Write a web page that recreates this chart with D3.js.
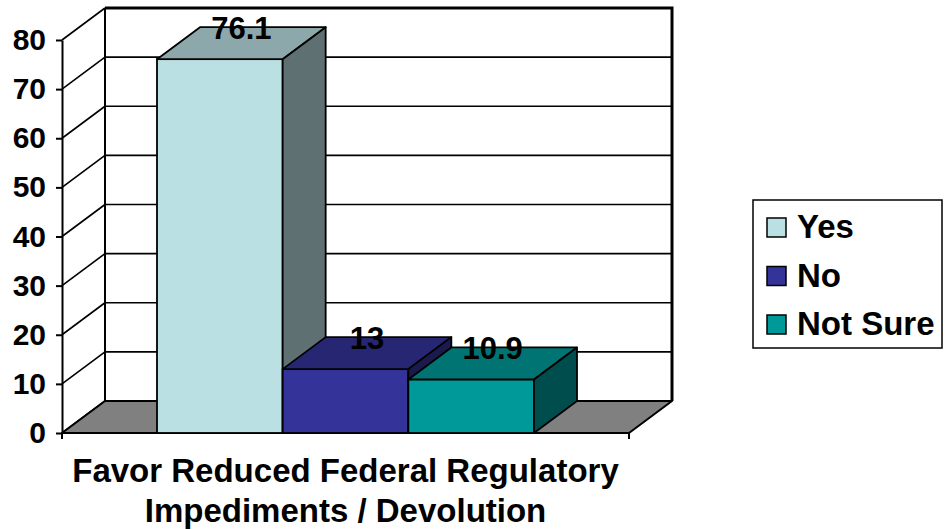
<!DOCTYPE html>
<html>
<head>
<meta charset="utf-8">
<script src="https://cdn.jsdelivr.net/npm/d3@7"></script>
<style>
  body { margin: 0; background: #fff; }
  svg text { font-family: "Liberation Sans", Arial, sans-serif; font-weight: bold; fill: #000; }
</style>
</head>
<body>
<div id="chart"></div>
<script>
// chart data
const categories = ['Favor Reduced Federal Regulatory Impediments / Devolution'];
const categoryLines = ['Favor Reduced Federal Regulatory', 'Impediments / Devolution'];
const seriesNames = ['Yes', 'No', 'Not Sure'];
const seriesValues = [76.1, 13, 10.9];
const yTicks = [0, 10, 20, 30, 40, 50, 60, 70, 80];

// colours per series (front face)
const seriesColors = ['#BBE0E3', '#333399', '#009999'];

const width = 945, height = 529;
const depth = { dx: 43, dy: 32 };   // 3d offset of the back wall

const svg = d3.select('#chart').append('svg')
    .attr('width', width)
    .attr('height', height);

const y = d3.scaleLinear().domain([0, 80]).range([433, 40]);
const x0 = d3.scaleBand().domain(categories).range([62, 629]).paddingOuter(0.252).paddingInner(0);
const x1 = d3.scaleBand().domain(seriesNames).range([0, x0.bandwidth()]);

function shade(c, k) {
    const col = d3.rgb(c);
    return d3.rgb(col.r * k, col.g * k, col.b * k).formatHex();
}

const [xl, xr] = x0.range();
const y0 = y(0), yTop = y(80);

// back wall
const wall = svg.append('g').attr('class', 'walls');
wall.append('rect')
    .attr('x', xl + depth.dx)
    .attr('y', yTop - depth.dy)
    .attr('width', xr - xl)
    .attr('height', y0 - yTop)
    .attr('fill', '#fff');

// back wall gridlines
wall.selectAll('line.grid')
    .data(yTicks.slice(1, -1))
    .join('line')
    .attr('class', 'grid')
    .attr('x1', xl + depth.dx).attr('x2', xr + depth.dx)
    .attr('y1', d => y(d) - depth.dy).attr('y2', d => y(d) - depth.dy)
    .attr('stroke', '#000').attr('stroke-width', 1.6);

// side wall gridlines
wall.selectAll('line.side')
    .data(yTicks)
    .join('line')
    .attr('class', 'side')
    .attr('x1', xl).attr('x2', xl + depth.dx)
    .attr('y1', d => y(d)).attr('y2', d => y(d) - depth.dy)
    .attr('stroke', '#000').attr('stroke-width', 1.6);

// back wall left edge
wall.append('line')
    .attr('x1', xl + depth.dx).attr('x2', xl + depth.dx)
    .attr('y1', yTop - depth.dy).attr('y2', y0 - depth.dy)
    .attr('stroke', '#000').attr('stroke-width', 2);

// back wall top and right border
wall.append('path')
    .attr('d', `M${xl + depth.dx},${yTop - depth.dy}H${xr + depth.dx}V${y0 - depth.dy}`)
    .attr('fill', 'none')
    .attr('stroke', '#000').attr('stroke-width', 3);

// floor
svg.append('path')
    .attr('d', `M${xl},${y0}L${xr},${y0}L${xr + depth.dx},${y0 - depth.dy}L${xl + depth.dx},${y0 - depth.dy}Z`)
    .attr('fill', '#808080')
    .attr('stroke', '#000').attr('stroke-width', 2)
    .attr('stroke-linejoin', 'round');

// category axis ticks
svg.selectAll('line.cat-tick')
    .data([xl, xr])
    .join('line')
    .attr('class', 'cat-tick')
    .attr('x1', d => d).attr('x2', d => d)
    .attr('y1', y0).attr('y2', y0 + 6)
    .attr('stroke', '#000').attr('stroke-width', 2);

// bars
const bars = svg.append('g').attr('class', 'bars')
    .selectAll('g')
    .data(seriesNames.map((s, i) => ({ name: s, value: seriesValues[i], color: seriesColors[i] })))
    .join('g');

bars.each(function(d) {
    const g = d3.select(this);
    const bx = x0(categories[0]) + x1(d.name);
    const bw = x1.bandwidth();
    const by = y(d.value);

    // front
    g.append('rect')
        .attr('x', bx).attr('y', by)
        .attr('width', bw).attr('height', y0 - by)
        .attr('fill', d.color)
        .attr('stroke', '#000').attr('stroke-width', 1.8);
    // top
    g.append('path')
        .attr('d', `M${bx},${by}L${bx + bw},${by}L${bx + bw + depth.dx},${by - depth.dy}L${bx + depth.dx},${by - depth.dy}Z`)
        .attr('fill', shade(d.color, 0.75))
        .attr('stroke', '#000').attr('stroke-width', 1.8).attr('stroke-linejoin', 'round');
    // side
    g.append('path')
        .attr('d', `M${bx + bw},${by}L${bx + bw + depth.dx},${by - depth.dy}L${bx + bw + depth.dx},${y0 - depth.dy}L${bx + bw},${y0}Z`)
        .attr('fill', shade(d.color, 0.5))
        .attr('stroke', '#000').attr('stroke-width', 1.8).attr('stroke-linejoin', 'round');
});

// data labels
bars.append('text')
    .attr('x', d => x0(categories[0]) + x1(d.name) + x1.bandwidth() / 2 + depth.dx / 2)
    .attr('y', d => y(d.value) - depth.dy + 12)
    .attr('text-anchor', 'middle')
    .style('font-size', '31px')
    .text(d => d.value);

// y axis
const yAxis = svg.append('g')
    .attr('transform', `translate(${xl},0)`)
    .call(d3.axisLeft(y).tickValues(yTicks).tickSize(6).tickSizeOuter(0).tickPadding(10));
yAxis.select('.domain').attr('stroke', '#000').attr('stroke-width', 2);
yAxis.selectAll('.tick line').attr('stroke', '#000').attr('stroke-width', 2);
yAxis.selectAll('.tick text')
    .attr('fill', '#000')
    .style('font-family', '"Liberation Sans", Arial, sans-serif')
    .style('font-weight', 'bold')
    .style('font-size', '30px');

// category label
svg.append('text')
    .attr('x', (xl + xr) / 2)
    .attr('y', 482)
    .attr('text-anchor', 'middle')
    .style('font-size', '33px')
    .selectAll('tspan')
    .data(categoryLines)
    .join('tspan')
    .attr('x', (xl + xr) / 2)
    .attr('dy', (d, i) => i === 0 ? 0 : 40)
    .text(d => d);

// legend
const legend = svg.append('g')
    .attr('class', 'legend')
    .attr('transform', 'translate(753, 200)');

legend.append('rect')
    .attr('width', 189)
    .attr('height', 148)
    .attr('fill', '#fff')
    .attr('stroke', '#000')
    .attr('stroke-width', 1.5);

seriesNames.forEach((name, i) => {
    const item = legend.append('g')
        .attr('transform', `translate(14, ${18 + i * 48.5})`);

    item.append('rect')
        .attr('width', 19)
        .attr('height', 19)
        .attr('fill', seriesColors[i])
        .attr('stroke', '#000')
        .attr('stroke-width', 1.5);

    item.append('text')
        .attr('x', 30)
        .attr('y', 20)
        .style('font-size', '33px')
        .text(name);
});
</script>
</body>
</html>
